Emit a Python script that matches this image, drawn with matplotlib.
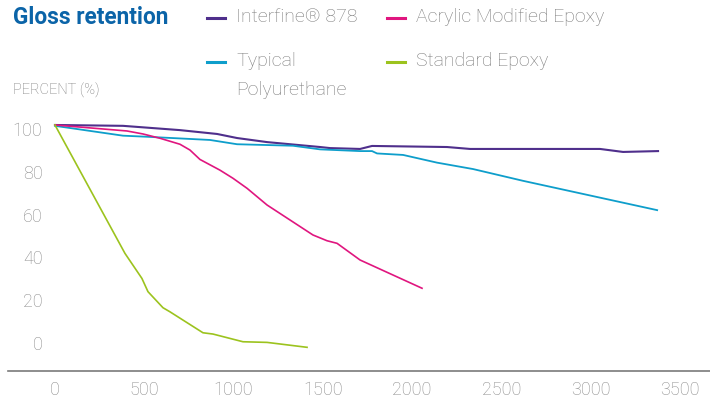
import matplotlib
matplotlib.use("Agg")
import matplotlib.pyplot as plt
from matplotlib.lines import Line2D

plt.rcParams['font.family'] = ['Roboto', 'DejaVu Sans']

# ---- data ----
series_names = ["Interfine® 878", "Typical\nPolyurethane", "Acrylic Modified Epoxy", "Standard Epoxy"]
series_colors = ["#4f2f8c", "#0e9ecb", "#e0167f", "#9cc31e"]

interfine_x = [0, 381, 700, 908, 1020, 1188, 1485, 1541, 1709, 1776, 2196, 2325, 3053, 3182, 3378]
interfine_y = [101.9, 101.5, 99.5, 97.7, 95.8, 93.9, 91.6, 91.1, 90.7, 92.1, 91.6, 90.7, 90.7, 89.3, 89.7]

pu_x = [0, 381, 515, 868, 1020, 1333, 1485, 1709, 1776, 1804, 1950, 2140, 2342, 2622, 3373]
pu_y = [101.5, 96.9, 96.4, 94.9, 92.9, 92.2, 90.5, 89.7, 89.7, 88.6, 87.9, 84.3, 81.3, 75.8, 62.1]

acrylic_x = [0, 403, 493, 588, 700, 756, 812, 924, 997, 1076, 1188, 1445, 1524, 1580, 1709, 2056]
acrylic_y = [101.9, 99.1, 97.7, 95.7, 92.9, 90.2, 85.8, 80.8, 77.0, 72.3, 64.5, 50.5, 47.8, 46.6, 38.8, 25.6]

standard_x = [0, 392, 487, 521, 605, 644, 829, 885, 1053, 1188, 1412]
standard_y = [101.9, 41.9, 30.2, 24.0, 16.5, 14.6, 4.8, 4.2, 0.6, 0.3, -2.0]

x_ticks = [0, 500, 1000, 1500, 2000, 2500, 3000, 3500]
y_ticks = [0, 20, 40, 60, 80, 100]

title_text = "Gloss retention"
ylabel_text = "PERCENT (%)"

W, H = 710, 400
fig = plt.figure(figsize=(W / 100, H / 100), dpi=100)

def fx(px):
    return px / W

def fy(py):
    return 1 - py / H

ax_left, ax_right, ax_top, ax_bottom = 48, 710, 110, 370
ax = fig.add_axes([fx(ax_left), fy(ax_bottom), (ax_right - ax_left) / W, (ax_bottom - ax_top) / H])

xs = [interfine_x, pu_x, acrylic_x, standard_x]
ys = [interfine_y, pu_y, acrylic_y, standard_y]
widths = [1.5, 1.3, 1.2, 1.2]
for x, y, c, lw in zip(xs, ys, series_colors, widths):
    ax.plot(x, y, color=c, lw=lw, solid_joinstyle='round')

ax.set_xlim(-39, 3669)
ax.set_ylim(-12.6, 108.9)
for s in ax.spines.values():
    s.set_visible(False)
ax.set_xticks(x_ticks)
ax.set_xticklabels([str(v) for v in x_ticks])
ax.set_yticks(y_ticks)
ax.set_yticklabels([str(v) for v in y_ticks])
ax.tick_params(axis='both', length=0, labelsize=13, labelcolor="#8a8a8a")
ax.tick_params(axis='y', pad=4)
ax.tick_params(axis='x', pad=8)
for lab in ax.get_xticklabels() + ax.get_yticklabels():
    lab.set_fontweight('light')
ax.patch.set_alpha(0)

# baseline rule across the figure
fig.add_artist(Line2D([fx(8), fx(710)], [fy(370.5), fy(370.5)], transform=fig.transFigure,
                      color="#7a7a7a", lw=1.2))

# title and axis label
fig.text(fx(13), fy(18), title_text, fontsize=16.3, fontweight='bold', color="#0b64a8",
         ha='left', va='center')
fig.text(fx(13), fy(90), ylabel_text, fontsize=10.5, color="#7a7a7a", fontweight='light',
         ha='left', va='center')

# legend (manual)
leg_pos = [(207, 18), (207, 62), (387, 18), (387, 62)]
for (hx, hy), name, c in zip(leg_pos, series_names, series_colors):
    fig.add_artist(Line2D([fx(hx), fx(hx + 18)], [fy(hy), fy(hy)], transform=fig.transFigure,
                          color=c, lw=2.2))
    fig.text(fx(hx + 29), fy(hy - 10.5), name, fontsize=14, color="#7a7a7a", fontweight='light',
             ha='left', va='top', linespacing=1.8)

fig.savefig("out.png", dpi=100)
